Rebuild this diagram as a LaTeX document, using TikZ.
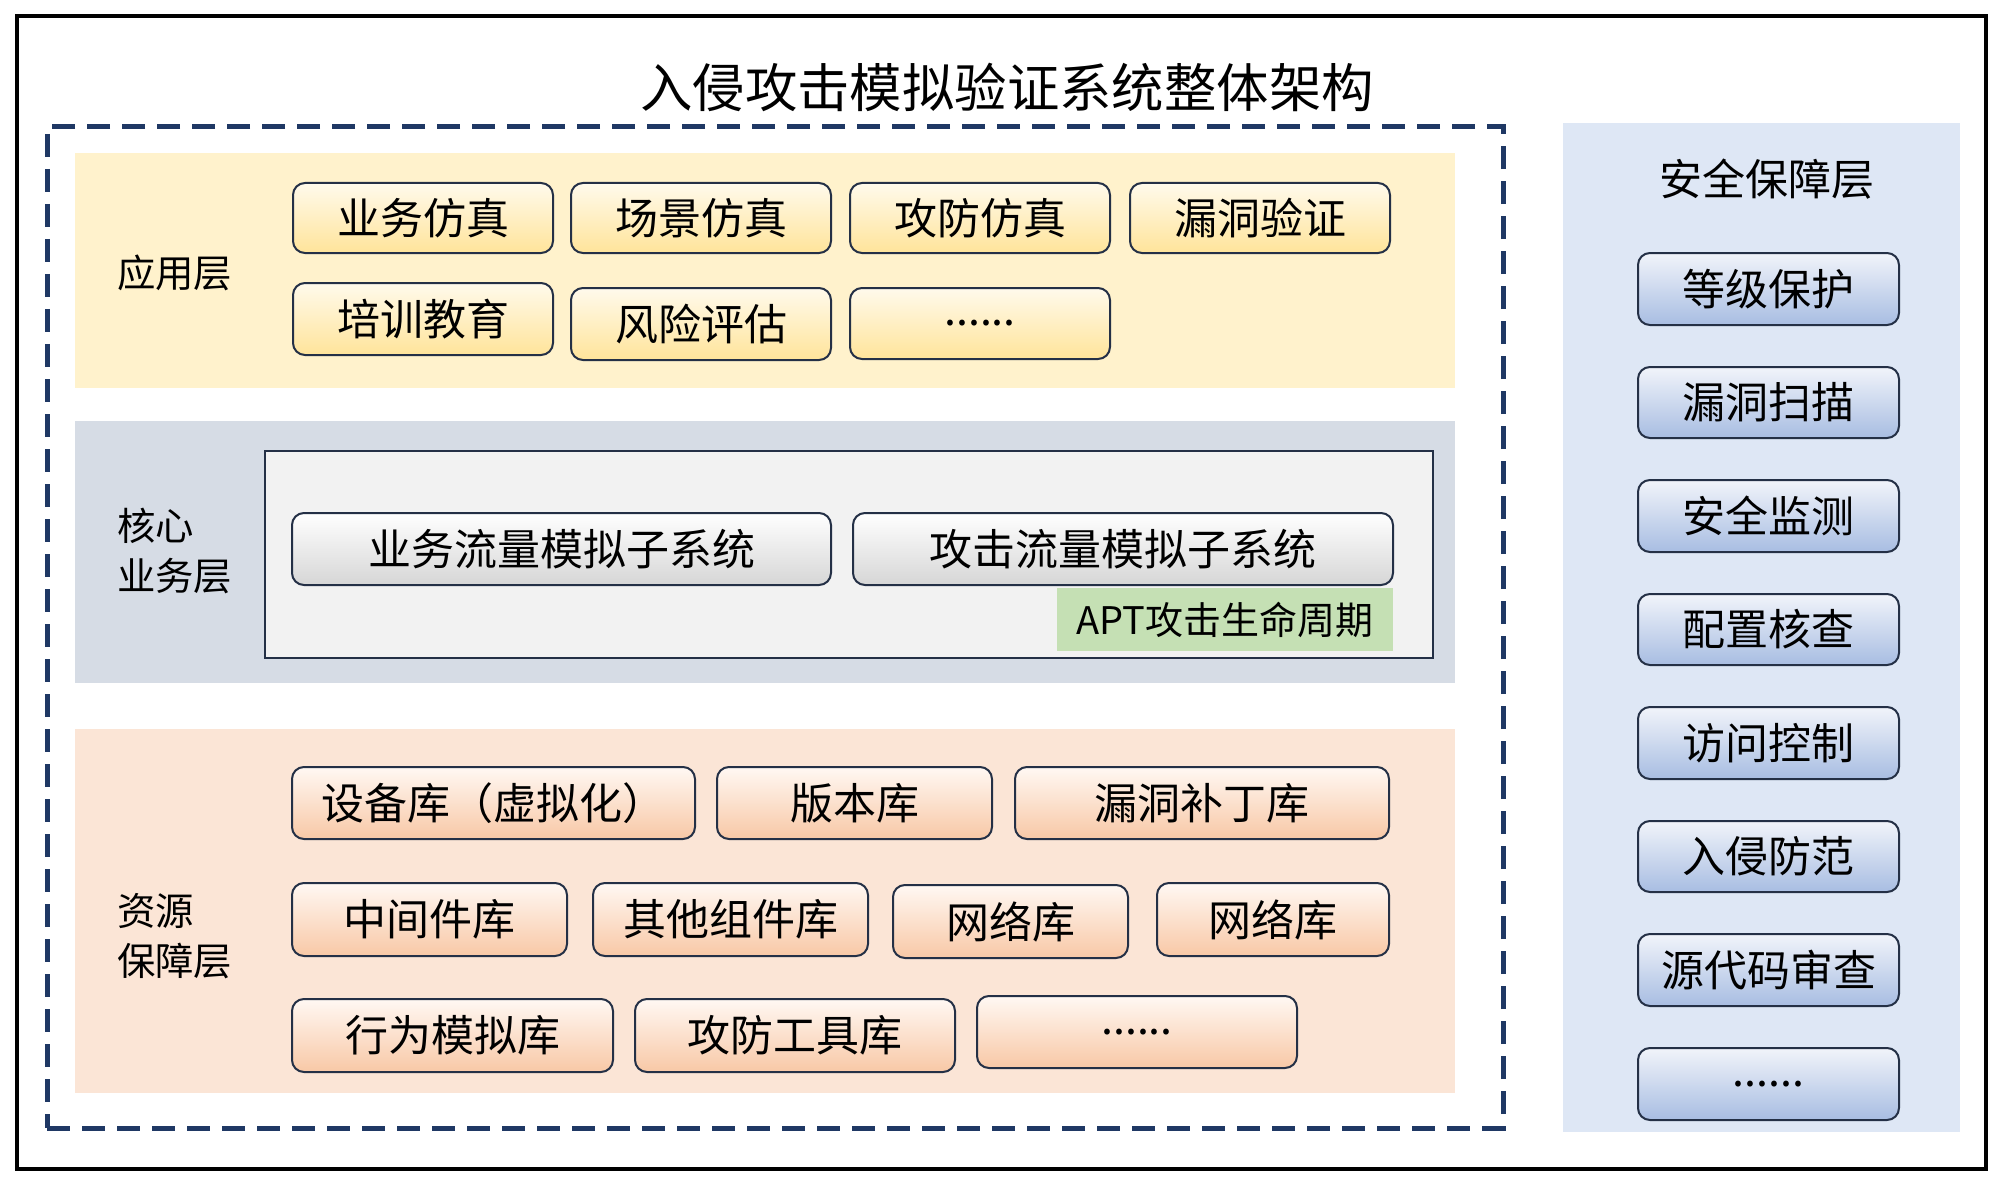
\documentclass[tikz,border=0pt]{standalone}
\usepackage{fontspec}
\setmainfont{Noto Sans CJK SC}
\definecolor{navy}{HTML}{1F3864}
\definecolor{boxline}{HTML}{243046}
\definecolor{appband}{HTML}{FFF2CC}
\definecolor{coreband}{HTML}{D6DCE5}
\definecolor{coreinner}{HTML}{F2F2F2}
\definecolor{resband}{HTML}{FBE5D6}
\definecolor{secband}{HTML}{DEE7F5}
\definecolor{aptgreen}{HTML}{C5E0B4}
\definecolor{appT}{HTML}{FFFAEC}
\definecolor{appB}{HTML}{FFE49A}
\definecolor{resT}{HTML}{FFF8F3}
\definecolor{resB}{HTML}{F8C8A6}
\definecolor{coreT}{HTML}{FFFFFF}
\definecolor{coreB}{HTML}{D6D6D6}
\definecolor{secT}{HTML}{F1F4FA}
\definecolor{secB}{HTML}{A8BDE2}
\newcommand\mybox[7]{\node[#1, minimum width={(#5-#3)*0.5pt}, minimum height={(#6-#4)*0.5pt}] (#2) at ({(#3+#5)/2},{(#4+#6)/2}) {#7};}
\tikzset{
  plain/.style={inner sep=0pt, outer sep=0pt},
  band/.style={plain, draw=none},
  frame/.style={plain, draw=black, line width=2pt},
  dashframe/.style={plain, draw=navy, line width=2.5pt, dash pattern=on 11.5pt off 6pt},
  innerbox/.style={plain, draw=boxline, line width=1pt, fill=coreinner},
  boxfont/.style={font=\fontsize{21.5pt}{26pt}\selectfont},
  box/.style={plain, boxfont, draw=boxline, line width=1pt, rounded corners=6pt},
  appbox/.style={box, top color=appT, bottom color=appB},
  resbox/.style={box, top color=resT, bottom color=resB},
  corebox/.style={box, top color=coreT, bottom color=coreB},
  secbox/.style={box, top color=secT, bottom color=secB},
  aptbox/.style={plain, fill=aptgreen, font=\fontsize{19pt}{23pt}\selectfont},
  layerlabel/.style={plain, anchor=west, align=left, font=\fontsize{19.2pt}{25pt}\selectfont},
  titlefont/.style={plain, font=\fontsize{26.2pt}{30pt}\selectfont},
}
\begin{document}
\begin{tikzpicture}[x=0.5pt, y=-0.5pt]
\useasboundingbox (0,0) rectangle (1999,1177);
\fill[white] (0,0) rectangle (1999,1177);
% outer frame
\mybox{frame}{outer}{17}{16}{1986}{1169}{}
% title
\node[titlefont] (title) at (1007,87) {入侵攻击模拟验证系统整体架构};
% dashed container
\mybox{dashframe}{container}{47}{127}{1503}{1128}{}
% layer bands
\mybox{band, fill=appband}{appL}{75}{153}{1455}{388}{}
\mybox{band, fill=coreband}{coreL}{75}{421}{1455}{683}{}
\mybox{band, fill=resband}{resL}{75}{729}{1455}{1093}{}
\mybox{band, fill=secband}{secL}{1563}{123}{1960}{1132}{}
% layer labels
\node[layerlabel] (appLabel) at (117,272.5) {应用层};
\node[layerlabel] (coreLabel) at (117,551) {核心\\业务层};
\node[layerlabel] (resLabel) at (117,936) {资源\\保障层};
\node[plain, boxfont] (secLabel) at (1767,179) {安全保障层};
% application layer
\mybox{appbox}{a1}{293}{183}{553}{253}{业务仿真}
\mybox{appbox}{a2}{571}{183}{831}{253}{场景仿真}
\mybox{appbox}{a3}{850}{183}{1110}{253}{攻防仿真}
\mybox{appbox}{a4}{1130}{183}{1390}{253}{漏洞验证}
\mybox{appbox}{a5}{293}{283}{553}{355}{培训教育}
\mybox{appbox}{a6}{571}{288}{831}{360}{风险评估}
\mybox{appbox}{a7}{850}{288}{1110}{359}{......}
% core layer
\mybox{innerbox}{coreIn}{265}{451}{1433}{658}{}
\mybox{corebox}{c1}{292}{513}{831}{585}{业务流量模拟子系统}
\mybox{corebox}{c2}{853}{513}{1393}{585}{攻击流量模拟子系统}
\mybox{aptbox}{apt}{1057}{588}{1393}{651}{APT攻击生命周期}
% resource layer
\mybox{resbox}{r1}{292}{767}{695}{839}{设备库（虚拟化）}
\mybox{resbox}{r2}{717}{767}{992}{839}{版本库}
\mybox{resbox}{r3}{1015}{767}{1389}{839}{漏洞补丁库}
\mybox{resbox}{r4}{292}{883}{567}{956}{中间件库}
\mybox{resbox}{r5}{593}{883}{868}{956}{其他组件库}
\mybox{resbox}{r6}{893}{885}{1128}{958}{网络库}
\mybox{resbox}{r7}{1157}{883}{1389}{956}{网络库}
\mybox{resbox}{r8}{292}{999}{613}{1072}{行为模拟库}
\mybox{resbox}{r9}{635}{999}{955}{1072}{攻防工具库}
\mybox{resbox}{r10}{977}{996}{1297}{1068}{......}
% security layer
\mybox{secbox}{s1}{1638}{253}{1899}{325}{等级保护}
\mybox{secbox}{s2}{1638}{367}{1899}{438}{漏洞扫描}
\mybox{secbox}{s3}{1638}{480}{1899}{552}{安全监测}
\mybox{secbox}{s4}{1638}{594}{1899}{665}{配置核查}
\mybox{secbox}{s5}{1638}{707}{1899}{779}{访问控制}
\mybox{secbox}{s6}{1638}{821}{1899}{892}{入侵防范}
\mybox{secbox}{s7}{1638}{934}{1899}{1006}{源代码审查}
\mybox{secbox}{s8}{1638}{1048}{1899}{1120}{......}
\end{tikzpicture}
\end{document}
